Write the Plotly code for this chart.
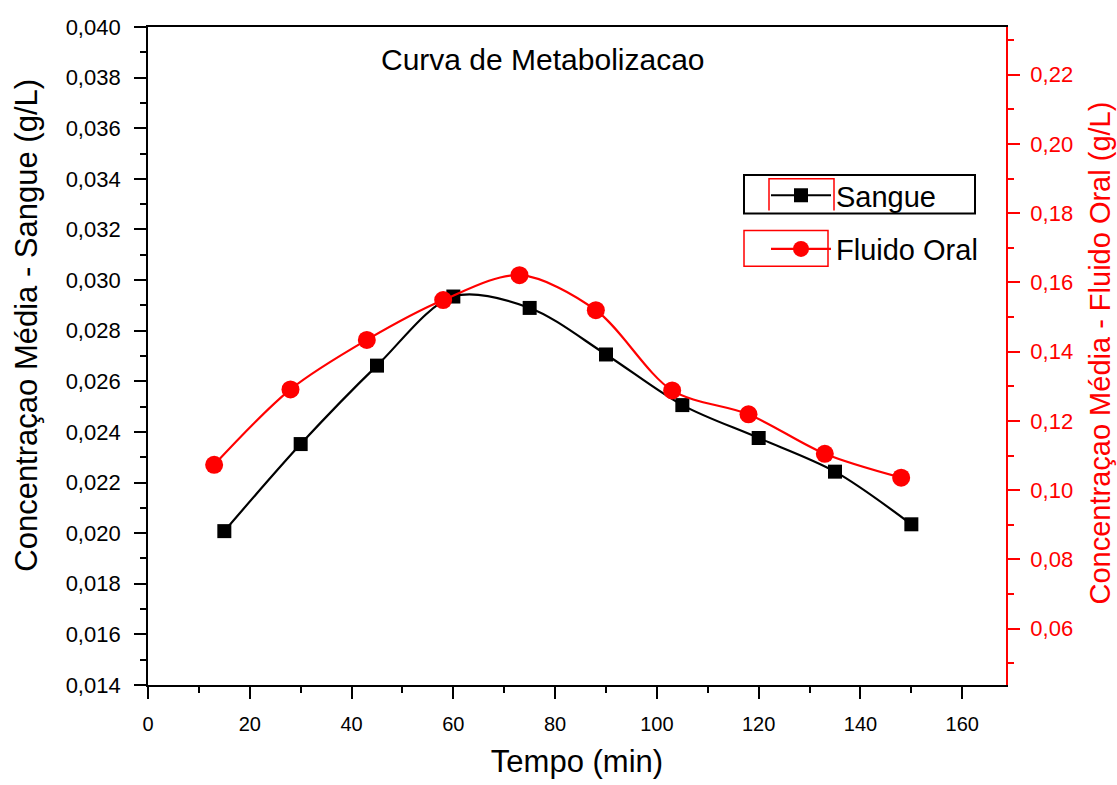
import plotly.graph_objects as go

# Data
tempo_sangue = [15, 30, 45, 60, 75, 90, 105, 120, 135, 150]
sangue = [0.02008, 0.02352, 0.02662, 0.02935, 0.02890, 0.02706, 0.02506, 0.02376, 0.02243, 0.02035]

tempo_oral = [13, 28, 43, 58, 73, 88, 103, 118, 133, 148]
fluido_oral = [0.1073, 0.1291, 0.1434, 0.1549, 0.1621, 0.1520, 0.1288, 0.1219, 0.1105, 0.1036]

FONT = "Liberation Sans, Arial, sans-serif"
RED = "#FF0000"

fig = go.Figure()
fig.add_trace(go.Scatter(
    x=tempo_sangue, y=sangue, name="Sangue", mode="lines+markers",
    line=dict(color="black", width=2.2, shape="spline", smoothing=0.9),
    marker=dict(symbol="square", size=14, color="black"),
    legendgroup="a", yaxis="y"))
fig.add_trace(go.Scatter(
    x=tempo_oral, y=fluido_oral, name="Fluido Oral", mode="lines+markers",
    line=dict(color=RED, width=2.2, shape="spline", smoothing=0.9),
    marker=dict(symbol="circle", size=18, color=RED),
    legendgroup="b", yaxis="y2"))

W, H = 1117, 785
L, R, T, B = 148, 1006, 27, 690
pw, ph = R - L, B - T

def px(x):
    return (x - L) / pw

def py(y):
    return (B - y) / ph

fig.update_layout(
    width=W, height=H,
    margin=dict(l=L, r=W - R, t=T, b=H - B, pad=0),
    paper_bgcolor="white", plot_bgcolor="white",
    separators=",.",
    font=dict(family=FONT, color="black"),
    showlegend=True,
    legend=dict(x=px(766), y=py(171), xanchor="left", yanchor="top",
                font=dict(size=29, family=FONT, color="black"),
                bgcolor="rgba(0,0,0,0)", borderwidth=0,
                traceorder="grouped", tracegroupgap=13, itemwidth=60),
    xaxis=dict(range=[0, 168.6], tick0=0, dtick=20, ticks="outside", ticklen=12,
               tickwidth=1.5, tickcolor="black",
               minor=dict(dtick=10, ticks="outside", ticklen=6, tickcolor="black", tickwidth=1.5),
               showline=True, linecolor="black", linewidth=1.8, mirror=True,
               showgrid=False, zeroline=False,
               tickfont=dict(size=20, family=FONT, color="black"),
               ticklabelstandoff=8,
               title=dict(text="Tempo (min)", font=dict(size=31, family=FONT, color="black"), standoff=16)),
    yaxis=dict(range=[0.014, 0.040], tick0=0.014, dtick=0.002, tickformat=".3f",
               ticks="outside", ticklen=12, tickwidth=1.5, tickcolor="black",
               minor=dict(dtick=0.001, ticks="outside", ticklen=6, tickcolor="black", tickwidth=1.5),
               showline=True, linecolor="black", linewidth=1.8,
               showgrid=False, zeroline=False,
               tickfont=dict(size=22, family=FONT, color="black"),
               ticklabelstandoff=9),
    yaxis2=dict(range=[0.0437, 0.2338], tick0=0.06, dtick=0.02, tickformat=".2f",
                overlaying="y", side="right", anchor="x",
                ticks="outside", ticklen=12, tickwidth=1.5, tickcolor=RED,
                minor=dict(dtick=0.01, ticks="outside", ticklen=6, tickcolor=RED, tickwidth=1.5),
                showline=True, linecolor=RED, linewidth=1.8,
                showgrid=False, zeroline=False,
                tickfont=dict(size=22, family=FONT, color=RED),
                ticklabelstandoff=6),
)

fig.add_annotation(text="Curva de Metabolizacao", xref="paper", yref="paper",
                   x=px(543), y=py(60), xanchor="center", yanchor="middle",
                   showarrow=False, font=dict(size=30, family=FONT, color="black"))
fig.add_annotation(text="Concentraçao Média - Sangue (g/L)", xref="paper", yref="paper",
                   x=px(27), y=py(328), xanchor="center", yanchor="middle", textangle=-90,
                   showarrow=False, font=dict(size=31, family=FONT, color="black"))
fig.add_annotation(text="Concentraçao Média - Fluido Oral (g/L)", xref="paper", yref="paper",
                   x=px(1100), y=py(356), xanchor="center", yanchor="middle", textangle=-90,
                   showarrow=False, font=dict(size=29, family=FONT, color=RED))

# legend decoration boxes
fig.add_shape(type="rect", xref="paper", yref="paper",
              x0=px(744), x1=px(975), y0=py(215), y1=py(176),
              line=dict(color="black", width=2), fillcolor="rgba(0,0,0,0)")
fig.add_shape(type="rect", xref="paper", yref="paper",
              x0=px(744), x1=px(828), y0=py(268), y1=py(232),
              line=dict(color=RED, width=1.5), fillcolor="rgba(0,0,0,0)")
fig.add_shape(type="path", xref="paper", yref="paper",
              path=f"M {px(769)} {py(212)} L {px(769)} {py(180)} L {px(834)} {py(180)} L {px(834)} {py(212)}",
              line=dict(color=RED, width=1.5))

fig.write_html("out.html")
